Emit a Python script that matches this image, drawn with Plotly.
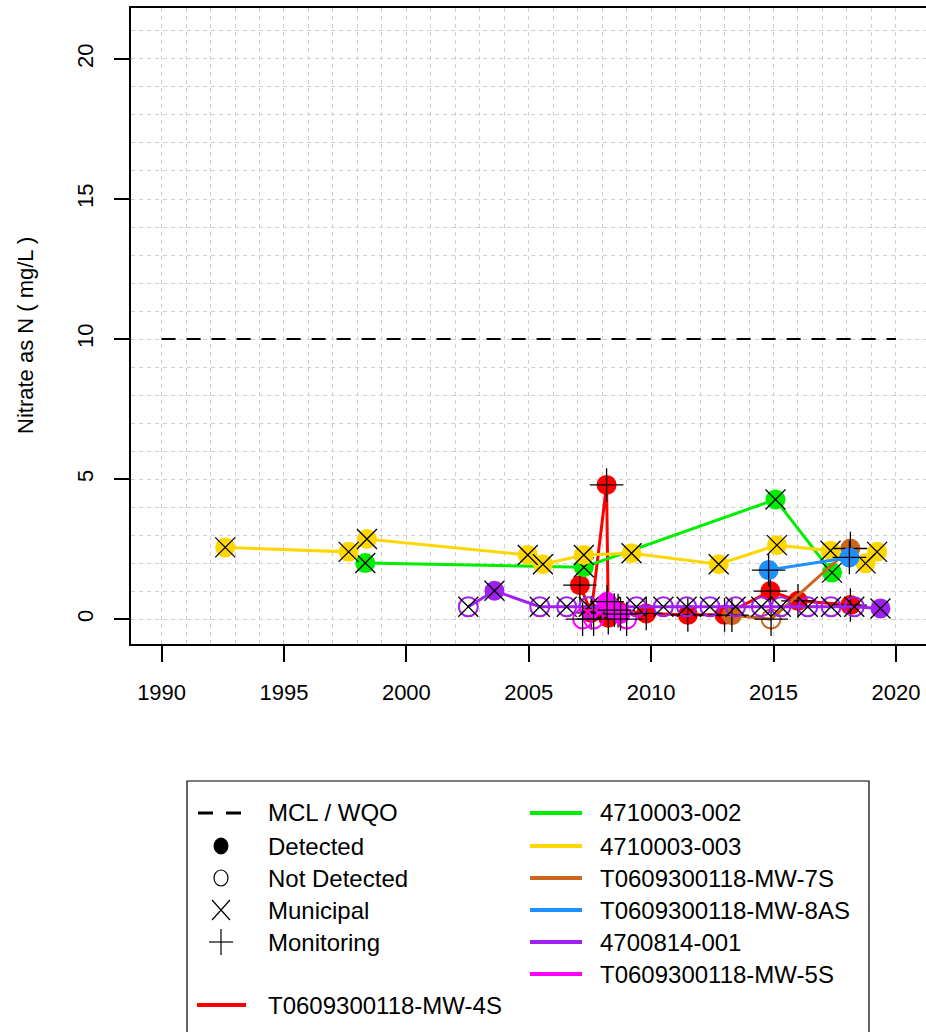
import plotly.graph_objects as go

# ---------------- data ----------------
mcl_years = [1990, 2020]
mcl_values = [10, 10]

s_names = ["T0609300118-MW-4S", "4710003-002", "4710003-003", "T0609300118-MW-7S",
           "T0609300118-MW-8AS", "4700814-001", "T0609300118-MW-5S"]
s_colors = ["#FF0000", "#00EE00", "#FFD700", "#CD661D", "#1E90FF", "#A020F0", "#FF00FF"]
s_types = ["Monitoring", "Municipal", "Municipal", "Monitoring", "Monitoring", "Municipal", "Monitoring"]

mw4s_years = [2007.09, 2007.55, 2008.18, 2008.25, 2008.65, 2009.8, 2011.5, 2013.0, 2014.87, 2016.0, 2018.14]
mw4s_values = [1.21, 0.22, 4.79, 0.05, 0.30, 0.20, 0.15, 0.15, 1.00, 0.65, 0.50]
mw4s_detected = [True, True, True, True, True, True, True, True, True, True, True]

w002_years = [1998.32, 2007.25, 2015.08, 2017.39]
w002_values = [2.00, 1.85, 4.27, 1.66]
w002_detected = [True, True, True, True]

w003_years = [1992.6, 1997.64, 1998.39, 2004.96, 2005.58, 2007.25, 2009.2, 2012.76, 2015.14, 2017.33, 2018.76, 2019.23]
w003_values = [2.56, 2.40, 2.86, 2.29, 1.96, 2.29, 2.35, 1.96, 2.64, 2.44, 1.99, 2.40]
w003_detected = [True] * 12

mw7s_years = [2013.3, 2014.9, 2018.14]
mw7s_values = [0.14, 0.0, 2.52]
mw7s_detected = [True, False, True]

mw8as_years = [2014.8, 2018.1]
mw8as_values = [1.75, 2.20]
mw8as_detected = [True, True]

w814_years = [2002.53, 2003.6, 2005.45, 2006.55, 2007.45, 2008.33, 2009.4, 2010.5, 2011.45,
              2012.4, 2013.45, 2014.5, 2015.3, 2016.4, 2017.35, 2018.3, 2019.37]
w814_values = [0.44, 1.01, 0.44, 0.44, 0.44, 0.44, 0.44, 0.44, 0.44,
               0.44, 0.44, 0.44, 0.44, 0.44, 0.44, 0.44, 0.38]
w814_detected = [False, True] + [False] * 14 + [True]

mw5s_years = [2007.2, 2007.65, 2008.2, 2008.5, 2008.75, 2009.0]
mw5s_values = [0.0, 0.0, 0.62, 0.32, 0.18, 0.0]
mw5s_detected = [False, False, True, True, True, False]

series_years = [mw4s_years, w002_years, w003_years, mw7s_years, mw8as_years, w814_years, mw5s_years]
series_values = [mw4s_values, w002_values, w003_values, mw7s_values, mw8as_values, w814_values, mw5s_values]
series_detected = [mw4s_detected, w002_detected, w003_detected, mw7s_detected, mw8as_detected,
                   w814_detected, mw5s_detected]

x_ticks = [1990, 1995, 2000, 2005, 2010, 2015, 2020]
y_ticks = [0, 5, 10, 15, 20]

# ---------------- figure ----------------
FONT = "Arial, Liberation Sans, sans-serif"
W, H = 926, 1032
L, R, T, B = 131, 0, 8, 388
PW, PH = W - L - R, H - T - B

fig = go.Figure()

fig.add_trace(go.Scatter(x=mcl_years, y=mcl_values, mode="lines",
                         line=dict(color="black", width=2.2, dash="14px,11px"),
                         showlegend=False, hoverinfo="skip"))

for name, col, typ, xs, ys, det in zip(s_names, s_colors, s_types, series_years, series_values, series_detected):
    fig.add_trace(go.Scatter(x=xs, y=ys, mode="lines", line=dict(color=col, width=3),
                             showlegend=False, name=name))
    xd = [x for x, d in zip(xs, det) if d]
    yd = [y for y, d in zip(ys, det) if d]
    xn = [x for x, d in zip(xs, det) if not d]
    yn = [y for y, d in zip(ys, det) if not d]
    if xd:
        fig.add_trace(go.Scatter(x=xd, y=yd, mode="markers",
                                 marker=dict(symbol="circle", size=20, color=col, line=dict(width=0)),
                                 showlegend=False, name=name))
    if xn:
        fig.add_trace(go.Scatter(x=xn, y=yn, mode="markers",
                                 marker=dict(symbol="circle-open", size=19, color=col, line=dict(width=2, color=col)),
                                 showlegend=False, name=name))
    sym = "x-thin-open" if typ == "Municipal" else "cross-thin-open"
    size = 20 if typ == "Municipal" else 24
    fig.add_trace(go.Scatter(x=xs, y=ys, mode="markers",
                             marker=dict(symbol=sym, size=size, color="black", line=dict(width=1.3, color="black")),
                             showlegend=False, name=name))

grid = dict(showgrid=True, gridcolor="#d0d0d0", gridwidth=1, griddash="4px,4px")

fig.update_xaxes(range=[1988.75, 2021.23], tickmode="array", tickvals=x_ticks, automargin=False,
                 ticks="outside", ticklen=16, tickwidth=1.5, tickcolor="black",
                 showline=True, linecolor="black", linewidth=1.5, mirror=True, zeroline=False,
                 tickfont=dict(family=FONT, size=22, color="black"), ticklabelstandoff=12,
                 minor=dict(tickmode="array", tickvals=list(range(1990, 2021)), ticks="",
                            showgrid=True, gridcolor="#d0d0d0", gridwidth=1, griddash="4px,4px"),
                 **grid)
fig.update_yaxes(range=[-0.89, 21.82], tickmode="array", tickvals=y_ticks, tickangle=-90, automargin=False,
                 ticks="outside", ticklen=15, tickwidth=1.5, tickcolor="black",
                 showline=True, linecolor="black", linewidth=1.5, mirror=True, zeroline=False,
                 tickfont=dict(family=FONT, size=22, color="black"), ticklabelstandoff=12,
                 minor=dict(tickmode="array", tickvals=list(range(0, 22)), ticks="",
                            showgrid=True, gridcolor="#d0d0d0", gridwidth=1, griddash="4px,4px"),
                 **grid)

def px(p):
    return (p - L) / PW

def py(p):
    return (H - B - p) / PH

shapes = []
annotations = []

annotations.append(dict(x=px(25), y=py(336), xref="paper", yref="paper", text="Nitrate as N ( mg/L )",
                        textangle=-90, showarrow=False, font=dict(family=FONT, size=22, color="black"),
                        xanchor="center", yanchor="middle"))

# legend box
shapes.append(dict(type="rect", xref="paper", yref="paper", x0=px(187), x1=px(869), y0=py(781), y1=py(1040),
                   line=dict(color="black", width=1.2), fillcolor="rgba(0,0,0,0)", layer="above"))

rows = [813, 846, 878, 910, 942, 974, 1005]
sx, tx = 221, 266
# dashed MCL sample
for a, b in [(198, 213), (226, 241)]:
    shapes.append(dict(type="line", xref="paper", yref="paper", x0=px(a), x1=px(b), y0=py(rows[0]), y1=py(rows[0]),
                       line=dict(color="black", width=3)))
# filled circle
shapes.append(dict(type="circle", xref="paper", yref="paper", xsizemode="pixel", ysizemode="pixel",
                   xanchor=px(sx), yanchor=py(rows[1]), x0=-7, x1=7, y0=-8, y1=8,
                   fillcolor="black", line=dict(color="black", width=1)))
# open circle
shapes.append(dict(type="circle", xref="paper", yref="paper", xsizemode="pixel", ysizemode="pixel",
                   xanchor=px(sx), yanchor=py(rows[2]), x0=-7, x1=7, y0=-8, y1=8,
                   fillcolor="rgba(0,0,0,0)", line=dict(color="black", width=1.2)))
# X
for (a, b, c, d) in [(-9, 9, -10, 10), (-9, 9, 10, -10)]:
    shapes.append(dict(type="line", xref="paper", yref="paper", xsizemode="pixel", ysizemode="pixel",
                       xanchor=px(sx), yanchor=py(rows[3]), x0=a, x1=b, y0=c, y1=d,
                       line=dict(color="black", width=1.2)))
# +
for (a, b, c, d) in [(-12, 12, 0, 0), (0, 0, -13, 13)]:
    shapes.append(dict(type="line", xref="paper", yref="paper", xsizemode="pixel", ysizemode="pixel",
                       xanchor=px(sx), yanchor=py(rows[4]), x0=a, x1=b, y0=c, y1=d,
                       line=dict(color="black", width=1.2)))

left_labels = ["MCL / WQO", "Detected", "Not Detected", "Municipal", "Monitoring"]
for lab, ry in zip(left_labels, rows):
    annotations.append(dict(x=px(tx), y=py(ry), xref="paper", yref="paper", text=lab, showarrow=False,
                            xanchor="left", yanchor="middle", font=dict(family=FONT, size=24, color="black")))

# series legend: first series in left column last row, others in right column
legend_pos = [(197, 246, tx, rows[6])] + [(530, 582, 598, rows[i]) for i in range(6)]
for name, col, (a, b, t, ry) in zip(s_names, s_colors, legend_pos):
    shapes.append(dict(type="line", xref="paper", yref="paper", x0=px(a), x1=px(b), y0=py(ry), y1=py(ry),
                       line=dict(color=col, width=4)))
    annotations.append(dict(x=px(t), y=py(ry), xref="paper", yref="paper", text=name, showarrow=False,
                            xanchor="left", yanchor="middle", font=dict(family=FONT, size=24, color="black")))

fig.update_layout(width=W, height=H, margin=dict(l=L, r=R, t=T, b=B, pad=0),
                  plot_bgcolor="white", paper_bgcolor="white", showlegend=False,
                  shapes=shapes, annotations=annotations, font=dict(family=FONT, color="black"))

fig.write_html("out.html", config={"displayModeBar": False},
               post_script="document.body.style.margin='0';document.body.style.overflow='hidden';"
                           "document.documentElement.style.overflow='hidden';")
